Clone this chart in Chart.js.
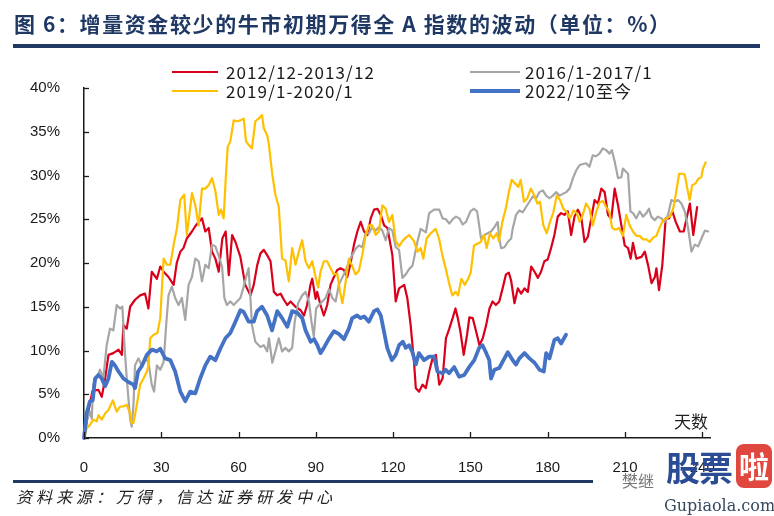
<!DOCTYPE html>
<html>
<head>
<meta charset="utf-8">
<script src="https://cdn.jsdelivr.net/npm/chart.js@4.4.1/dist/chart.umd.min.js"></script>
<style>
  html, body { margin: 0; padding: 0; background: #fff; }
  #wrap { position: relative; width: 774px; height: 516px; overflow: hidden; background: #fff; }
  #chart { position: absolute; left: 0; top: 0; }
  .abs { position: absolute; white-space: nowrap; }
  #title { left: 14px; top: 8px; font: bold 21px "Noto Sans CJK SC", sans-serif; color: #1f3864; letter-spacing: 1.6px; }
  #topRule { left: 13px; top: 44px; width: 747px; height: 4px; background: #1f3864; }
  #bottomRule { left: 13px; top: 480px; width: 580px; height: 3px; background: #1f3864; }
  #source { left: 16px; top: 484px; font: italic 16px "Noto Sans CJK SC", sans-serif; color: #222; letter-spacing: 4px; }
  .lg { font: 17px "Noto Sans CJK SC", sans-serif; color: #1a1a1a; line-height: 19px; letter-spacing: 1.1px; }
  .sw { position: absolute; height: 3px; }
  #unit { left: 674px; top: 408px; font: 17px "Noto Sans CJK SC", sans-serif; color: #222; }
  #wm { left: 590px; top: 438px; width: 184px; height: 78px; }
  #wmName { left: 32px; top: 30px; font: 16px "Noto Sans CJK SC", sans-serif; color: #777; }
  #wmBig { left: 76px; top: 4px; font: bold 34px "Noto Sans CJK SC", sans-serif; color: #2b4c94; letter-spacing: -1px; }
  #wmLa { left: 146px; top: 6px; width: 36px; height: 44px; background: #e0483f; border-radius: 8px; color: #fff; font: bold 30px "Noto Sans CJK SC", sans-serif; text-align: center; line-height: 42px; }
  #wmUrl { left: 74px; top: 58px; font: 16px "DejaVu Serif", serif; color: #34495e; }
</style>
</head>
<body>
<div id="wrap">
  <canvas id="chart" width="774" height="516"></canvas>
  <div id="title" class="abs">图 6：增量资金较少的牛市初期万得全 A 指数的波动（单位：%）</div>
  <div id="topRule" class="abs"></div>
  <div id="legend"></div>
  <div id="unit" class="abs">天数</div>
  <div id="bottomRule" class="abs"></div>
  <div id="source" class="abs">资料来源：万得，信达证券研发中心</div>
  <div id="wm" class="abs">
    <div id="wmName" class="abs">樊继</div>
    <div id="wmBig" class="abs">股票</div>
    <div id="wmLa" class="abs">啦</div>
    <div id="wmUrl" class="abs">Gupiaola.com</div>
  </div>
</div>
<script>
// x ticks (days) and y ticks (%)
const xTicks = [0, 30, 60, 90, 120, 150, 180, 210, 240];
const yTicks = [0, 5, 10, 15, 20, 25, 30, 35, 40];

// 2012/12-2013/12
const redDays = [0, 2, 3.3, 5.6, 6.9, 8.2, 9.5, 11.4, 13.4, 14.7, 15.3, 16.6, 17.9, 19.8, 21.8, 23.7, 25, 26.3, 28.3, 29.6, 30.9, 32.8, 34.8, 36, 37.4, 38.6, 39.9, 41.9, 43.2, 44.5, 45.8, 47.1, 48.4, 49.7, 51, 52.3, 53.7, 55, 56.2, 57.5, 58.8, 60.7, 62.6, 64.6, 65.9, 67.2, 68.5, 69.8, 71.1, 72.4, 73.7, 75, 76.3, 77.6, 78.9, 80.2, 82.1, 84.1, 85.4, 86.6, 87.9, 88.6, 89.9, 90.5, 91.8, 93.1, 94.4, 95.7, 97, 98.3, 99.6, 100.9, 102.2, 103.5, 104.8, 106.1, 107.4, 108.7, 110, 111.3, 112.6, 113.9, 115.2, 116.5, 117.8, 119.7, 121, 122.3, 124.3, 125.5, 126.8, 128.1, 128.8, 130.1, 131.4, 132.7, 134, 135.3, 136.6, 137.9, 139.2, 140.5, 141.8, 143.1, 144.2, 145.1, 146.1, 147.4, 148.7, 149.6, 150.9, 152.2, 153.5, 154.8, 156.1, 157.4, 158.6, 159.9, 161.2, 162.5, 163.8, 164.9, 165.8, 167.1, 168.4, 169.7, 171, 172.3, 173.6, 174.9, 176.2, 177.4, 178.7, 180, 181.3, 182.6, 183.9, 185.2, 186.5, 187.8, 189.1, 190.4, 191.7, 193, 194.3, 195.6, 196.9, 198.2, 199.5, 200.8, 202.1, 203.4, 204.7, 206, 207.3, 208.6, 209.9, 211.2, 212.2, 213.1, 214.4, 216.4, 217.7, 219, 220.3, 221.6, 222.2, 223.2, 224.5, 225.8, 227.1, 228.4, 229.7, 231.3, 232.8, 233.9, 235.2, 236.5, 238];
const redVals = [0, 3.5, 5.4, 5.5, 4.7, 6.8, 9.5, 9.7, 10.1, 9.5, 12.9, 12.5, 15, 15.8, 16.3, 16.5, 14.8, 19, 18.2, 19.6, 19, 18.4, 17.5, 20, 21.3, 21.7, 22.8, 23.6, 24.2, 24.7, 25.1, 23.6, 24, 21.3, 20.5, 19, 22.8, 23.6, 18.6, 23.2, 22.4, 20.7, 17.5, 16.3, 17.5, 19.7, 21.1, 21.5, 20.9, 20.2, 16.7, 16.3, 16.5, 15.8, 15.2, 15.6, 15, 14.6, 14, 15.2, 17.5, 18.2, 15.9, 16.7, 15.2, 14, 15.2, 17.5, 18.4, 19.2, 19.4, 19.2, 18.4, 20, 22.1, 23.6, 24.7, 23.6, 23.2, 25.1, 26.1, 26.2, 25.5, 24.3, 24, 20.9, 15.6, 17.1, 17.5, 16, 12.9, 8.7, 5.7, 5.3, 6.1, 5.7, 7.6, 9.1, 9.5, 6.1, 6.8, 11.4, 12.5, 13.7, 14.8, 13.7, 12.2, 9.5, 11.8, 13.8, 13.7, 12.2, 10.6, 11.4, 12.9, 14.8, 15.6, 15.2, 15.6, 17.1, 18.7, 18.9, 18, 15.4, 17.1, 16.5, 17.1, 16.7, 19.6, 19, 18.3, 19, 20.2, 20.4, 21.7, 23.2, 25.3, 25.7, 25.5, 25.9, 23.2, 25.3, 26.1, 25.3, 22.4, 23, 25.1, 27.2, 26.8, 28.5, 28.1, 25.5, 25.1, 28.5, 26.6, 24.3, 22, 21.7, 20.5, 22.3, 20.5, 20.7, 21.3, 19.7, 17.7, 18.4, 19.4, 16.9, 19.8, 25.1, 25.1, 25.9, 24.7, 23.6, 23.6, 25.1, 26.8, 23.2, 26.4];

// 2016/1-2017/1
const grayDays = [0, 1, 2.3, 3, 3.6, 4.9, 6.2, 7.5, 8.8, 10.1, 11.4, 12.7, 14, 14.9, 15.7, 16.6, 17.9, 18.5, 19.2, 19.8, 21.1, 22.4, 23.7, 25, 26.3, 27.2, 28.3, 29.6, 30.9, 31.9, 32.8, 34.1, 35.4, 36.7, 38, 39.3, 40.6, 41.9, 43.2, 44.5, 45.8, 47.1, 48.4, 49.7, 51, 52.3, 53.6, 54.5, 55.5, 56.8, 58.1, 59.4, 60.7, 62, 63.3, 63.9, 64.6, 65.2, 66.5, 68.5, 69.8, 71.1, 71.8, 73.1, 74.3, 75.6, 76.9, 78.2, 79.5, 80.8, 81.8, 83.1, 84.7, 86, 87.3, 88.3, 89.2, 90.1, 91.2, 92.5, 93.8, 95.1, 96.4, 97.7, 98.9, 100.2, 101.5, 102.8, 104.1, 105.4, 106.7, 108, 109.3, 110.6, 111.9, 113.2, 114.5, 115.8, 117.1, 118.4, 119.7, 121, 122.3, 123.6, 124.9, 126.2, 127.5, 128.1, 129.4, 130.7, 132.7, 134, 135.9, 137.9, 139.2, 140.5, 141.8, 143.1, 144.4, 145.7, 147, 148.3, 150, 151.3, 152.6, 153.4, 154.1, 155.4, 156.7, 158, 159.3, 160.6, 161.2, 161.9, 163.2, 164.5, 165.8, 166.4, 167.7, 169, 170.3, 171.6, 172.9, 174.2, 175.5, 176.8, 178.1, 179.4, 180.7, 182, 183.3, 184.6, 185.9, 187.2, 188.5, 189.8, 191.1, 192.4, 194.9, 196.2, 197.5, 198.8, 200.1, 201.4, 202.7, 204, 204.9, 206, 207.3, 208.6, 209.2, 210.5, 211.2, 212.1, 213.1, 214.4, 215.7, 217, 218.3, 219.3, 220.2, 221.5, 222.8, 224.1, 225.4, 226.7, 228, 229.3, 230.6, 231.9, 233.2, 234.5, 235.8, 237.1, 238.4, 239.7, 241, 242.3];
const grayVals = [0, 1.9, 3, 2.2, 6.1, 6.8, 7.8, 6.8, 10.6, 12.5, 12.3, 15.2, 14.8, 15, 10.6, 6.8, 2.2, 1.3, 3.8, 8.3, 9.1, 8.3, 9.1, 8.7, 6.1, 5.3, 8.3, 7.8, 8.7, 12.9, 16.3, 17.3, 16, 15.2, 16, 13.5, 17.5, 18.4, 20.5, 20.2, 17.9, 19.8, 19.4, 22.1, 21.9, 20.8, 19.6, 16, 15.2, 15.6, 15.2, 15.6, 16, 17.3, 18.8, 19.4, 16, 12.9, 11, 10.4, 10.6, 9.9, 11.4, 8.6, 9.9, 11.4, 9.9, 10.3, 9.9, 10.3, 13.3, 15.4, 16.3, 16.7, 15.6, 13.3, 11.6, 14.8, 15.2, 15.6, 16, 17, 16, 15.6, 17.5, 18.3, 19.1, 20.1, 20.9, 21.6, 22, 21.8, 23.4, 23.4, 24.1, 23.7, 24.1, 23.7, 22.6, 24, 23.7, 21.8, 21.5, 18.3, 18.7, 19.3, 19.7, 20.5, 22.4, 23.9, 23.5, 25.7, 26.1, 26.1, 25.1, 25, 24.5, 25, 25.3, 25.1, 24.4, 24.7, 25.9, 26.2, 25.9, 24.3, 22.8, 23.2, 23.4, 23.6, 24.1, 24.7, 22.8, 21.7, 21.8, 22.4, 22.8, 23.9, 25.5, 26, 25.8, 26.4, 27, 27.6, 27.4, 28.1, 28.3, 27.7, 27.4, 27.7, 28.1, 27.7, 27.9, 28.1, 28.5, 29.7, 30.6, 31.2, 31.4, 31, 32.3, 32.2, 32.5, 33.1, 32.9, 32.5, 32.9, 31.6, 29.7, 29.8, 30.8, 30.4, 30.2, 25.9, 25.7, 25.1, 25.9, 25.3, 25.7, 26.2, 25.3, 24.9, 25.3, 25.1, 24.7, 25.5, 27.2, 27, 27.2, 26.8, 25.9, 24, 21.3, 22.1, 21.9, 22.8, 23.7, 23.6];

// 2019/1-2020/1
const yellowDays = [0, 1, 2.3, 3.6, 4.9, 5.6, 6.9, 8.2, 9.5, 11.2, 12.7, 14, 15.3, 16.6, 17.9, 18.5, 19.2, 20.5, 21.8, 23.1, 24.4, 25, 25.7, 27, 28.5, 29.6, 30.9, 32.2, 33.5, 34.8, 36.1, 37.4, 38.9, 39.9, 40.9, 41.9, 43.2, 44.5, 45.8, 47.1, 48.4, 49.7, 51, 52.3, 53.2, 54.2, 55.1, 55.8, 56.8, 58.1, 59.4, 60.7, 62, 62.9, 63.9, 65.2, 66.5, 67.8, 69.1, 69.8, 71.1, 71.7, 73.1, 74.3, 75.6, 76.9, 78.2, 79.5, 80.8, 82.1, 83.4, 84.7, 86, 87.3, 88.6, 89.9, 90.9, 91.8, 93.1, 94.4, 95.7, 97, 98.3, 99.4, 100.3, 101.6, 102.8, 103.9, 105.4, 106.7, 108, 109.3, 110.6, 111.9, 113.2, 114.5, 115.8, 117.1, 118.4, 119.7, 121, 122.3, 123.6, 124.9, 126.2, 128.1, 129.4, 130.7, 131.7, 133, 134.6, 136.5, 137.8, 139.1, 140.4, 141.7, 143, 144.3, 145.2, 146.5, 147.8, 149.1, 150.1, 151.4, 152.7, 154, 155.3, 156.3, 157.6, 158.9, 160.2, 161.1, 162.4, 163.7, 165, 166, 167.3, 168.6, 169.5, 170.8, 172.1, 173.4, 174.7, 176, 177, 178.3, 179.6, 180.9, 182.2, 183.5, 184.8, 186.1, 187.4, 188.7, 190, 191.3, 192.4, 193.6, 194.9, 196.2, 197.5, 198.8, 200.1, 201.4, 202.7, 204, 205, 206.4, 207.7, 209.2, 210.5, 211.8, 213.1, 214.4, 215.7, 217, 218.3, 219.6, 220.9, 222.2, 223.5, 224.8, 226.1, 227.4, 228.7, 229.7, 231, 232.3, 233.2, 234.2, 235.1, 236.1, 237.4, 238.4, 239.6, 240.3, 241.3];
const yellowVals = [0, 1.1, 1.5, 2.1, 1.9, 2.6, 2.1, 2.8, 3.2, 4.3, 3, 3.6, 3.6, 3.8, 2.8, 1.7, 1.7, 3.8, 6.1, 6.8, 7.6, 8.3, 11.4, 11.8, 12, 13.7, 20.5, 19.8, 19.8, 22.1, 24, 27.2, 27.8, 23.2, 25.5, 28, 26.6, 24.3, 28.5, 28.5, 28.9, 29.7, 28.2, 25.5, 26.1, 25.1, 30.1, 33.3, 33.9, 36.3, 36.2, 36.3, 36.5, 33.9, 33.5, 33.1, 36.2, 36.5, 36.9, 35.4, 34.6, 33.7, 30.1, 27.8, 26.4, 20.5, 20.3, 17.9, 21.7, 19.8, 21.3, 22.6, 20.2, 19.4, 20.2, 18.4, 17.2, 19, 20.2, 20.2, 19.4, 18.7, 18.8, 16.7, 15.4, 17.9, 20.5, 19.8, 18.7, 19.1, 20.9, 23.1, 24.3, 24.3, 23.2, 23.6, 26.6, 26.2, 24.7, 25.5, 22.5, 21.9, 22.5, 22.9, 23.2, 22.5, 21.3, 21.7, 20.5, 22.8, 23.4, 23.9, 22.8, 20.9, 19.4, 17.7, 16.3, 16.7, 16.3, 18.2, 17.5, 18.2, 18.9, 22, 22.2, 22.4, 23.2, 21.7, 23.4, 22.8, 23.4, 22.5, 24.7, 26.2, 28.2, 29.5, 29.1, 28.7, 29.5, 27, 27.4, 28.5, 27.8, 26.8, 27, 24.3, 23.4, 24.7, 25.8, 27.7, 27.2, 26.2, 25.8, 25.1, 26, 25.7, 24.7, 25.5, 26.8, 26.2, 24.3, 25.8, 26.9, 27.1, 26.4, 25.8, 24, 23.8, 24, 23.1, 25.5, 24.3, 23.6, 23.1, 23.1, 22.7, 22.7, 22.4, 22.9, 23.1, 24.1, 24.9, 25.1, 25.3, 26.2, 27.8, 30.2, 30.2, 30.1, 28.5, 27.2, 28.9, 29.1, 29.6, 29.8, 30.8, 31.5];

// 2022/10至今
const blueDays = [0, 1, 2.3, 3.4, 4.3, 5.6, 6.9, 8.2, 9.5, 10.8, 12, 13.4, 15.3, 17.2, 19.2, 19.8, 21, 22.4, 24.4, 26.3, 28.3, 29.6, 31.5, 33.5, 35.4, 37.4, 39.3, 41.2, 43.2, 45.1, 47.1, 49, 51, 52.9, 54.9, 56.8, 58.8, 60.7, 62, 63.9, 65.9, 67.2, 69.1, 71.1, 73, 75, 76.9, 78.9, 80.8, 82.8, 84.7, 86, 88, 89.3, 90.6, 91.8, 93.1, 95, 97, 98.9, 100.9, 102.8, 104.1, 106, 107.4, 108.7, 110.6, 112.6, 113.9, 115.2, 116.5, 117.7, 119.5, 121, 122.3, 123.8, 124.9, 126.2, 127.5, 128.8, 130, 132, 134, 135.9, 137.2, 139.2, 140.4, 141.7, 143.7, 145.6, 147.6, 149.5, 151.5, 153.4, 154.7, 156, 157.3, 158, 159.3, 161.2, 163.2, 164.5, 166.4, 167.7, 169, 171, 172.9, 174.9, 176.8, 178.5, 179.4, 180.7, 182.6, 183.9, 185.2, 187.1];
const blueVals = [0, 2.8, 4.2, 4.3, 6.8, 7.2, 6.8, 5.9, 6.8, 8.7, 8.3, 7.6, 6.8, 6.4, 6.1, 5.7, 7.6, 8.2, 9.5, 10.1, 9.9, 10.2, 9.1, 8.9, 7.6, 5.3, 4.2, 5.3, 5.1, 6.8, 8.3, 9.3, 8.9, 10.2, 11.4, 12, 13.3, 14.6, 14.4, 13.3, 13.3, 14.5, 15, 14, 12.3, 14.5, 13.7, 12.7, 14.5, 14.3, 13.7, 12.3, 11, 11.3, 10.6, 9.7, 10.3, 11.3, 12.2, 11.9, 11.3, 12.5, 13.7, 14, 13.7, 13.9, 13.3, 14.5, 14.7, 14, 12.1, 10.3, 8.9, 9.5, 10.6, 11, 10.3, 10.6, 9.8, 8.4, 9.7, 8.9, 9.3, 9.3, 7.6, 7.4, 7.8, 7.4, 8.1, 7, 7.2, 8.1, 8.9, 10.3, 10.6, 9.8, 8.9, 6.8, 7.8, 8, 9.1, 9.8, 8.9, 8.4, 9.1, 9.7, 9.1, 8.6, 7.8, 7.6, 9.7, 9.1, 11.2, 11.4, 10.8, 11.8];

const seriesNames = ['2012/12-2013/12', '2016/1-2017/1', '2019/1-2020/1', '2022/10至今'];
const seriesColors = ['#d9001b', '#a6a6a6', '#ffc000', '#4472c4'];
const seriesWidths = [2.2, 2.2, 2.2, 3.8];

function pts(days, vals) {
  return days.map((d, i) => ({ x: d, y: vals[i] }));
}

// legend (two columns, drawn as html)
const legendSpots = [
  { left: 172, top: 62 },
  { left: 470, top: 62 },
  { left: 172, top: 81 },
  { left: 470, top: 81 }
];
const legendEl = document.getElementById('legend');
seriesNames.forEach((name, i) => {
  const spot = legendSpots[i];
  const sw = document.createElement('div');
  sw.className = 'sw';
  sw.style.left = spot.left + 'px';
  sw.style.top = (spot.top + 10 - seriesWidths[i] / 2) + 'px';
  sw.style.width = (i % 2 ? 50 : 46) + 'px';
  sw.style.height = seriesWidths[i] + 'px';
  sw.style.background = seriesColors[i];
  legendEl.appendChild(sw);
  const tx = document.createElement('div');
  tx.className = 'abs lg';
  tx.style.left = (spot.left + (i % 2 ? 55 : 54)) + 'px';
  tx.style.top = spot.top + 'px';
  tx.textContent = name;
  legendEl.appendChild(tx);
});

// ticks pointing inwards, as in the original
const innerTicks = {
  id: 'innerTicks',
  afterDraw(chart) {
    const { ctx } = chart;
    const x = chart.scales.x, y = chart.scales.y;
    ctx.save();
    ctx.strokeStyle = '#1a1a1a';
    ctx.lineWidth = 1.3;
    x.ticks.forEach(t => {
      const px = Math.round(x.getPixelForValue(t.value)) + 0.5;
      ctx.beginPath();
      ctx.moveTo(px, y.bottom);
      ctx.lineTo(px, y.bottom - 6);
      ctx.stroke();
    });
    y.ticks.forEach(t => {
      const py = Math.round(y.getPixelForValue(t.value)) + 0.5;
      ctx.beginPath();
      ctx.moveTo(x.left, py);
      ctx.lineTo(x.left + 5, py);
      ctx.stroke();
    });
    ctx.restore();
  }
};

const allDays = [redDays, grayDays, yellowDays, blueDays];
const allVals = [redVals, grayVals, yellowVals, blueVals];
// first dataset is painted last, so put the blue one first
const order = [3, 2, 1, 0];
const datasets = order.map(i => ({
  label: seriesNames[i],
  data: pts(allDays[i], allVals[i]),
  borderColor: seriesColors[i],
  backgroundColor: seriesColors[i],
  borderWidth: seriesWidths[i],
  pointRadius: 0,
  tension: 0,
  clip: false,
  borderJoinStyle: 'round',
  borderCapStyle: 'round'
}));

const tickFont = { family: '"Liberation Sans", Arial, sans-serif', size: 15 };

new Chart(document.getElementById('chart'), {
  type: 'line',
  data: { datasets },
  options: {
    responsive: false,
    animation: false,
    devicePixelRatio: 1,
    layout: { padding: { left: 0, top: 88, right: 64, bottom: 0 } },
    plugins: { legend: { display: false }, tooltip: { enabled: false } },
    scales: {
      x: {
        type: 'linear',
        min: 0,
        max: 243,
        afterFit: s => { s.height = 78; },
        afterBuildTicks: s => { s.ticks = xTicks.map(v => ({ value: v })); },
        grid: { display: false },
        border: { display: true, color: '#1a1a1a', width: 1.5 },
        ticks: { padding: 13, color: '#1a1a1a', font: tickFont, maxRotation: 0 }
      },
      y: {
        min: 0,
        max: 40,
        afterFit: s => { s.width = 84; },
        afterBuildTicks: s => { s.ticks = yTicks.map(v => ({ value: v })); },
        grid: { display: false },
        border: { display: true, color: '#1a1a1a', width: 1.5 },
        ticks: { padding: 16, color: '#1a1a1a', font: tickFont, callback: v => v + '%' }
      }
    }
  },
  plugins: [innerTicks]
});
</script>
</body>
</html>
